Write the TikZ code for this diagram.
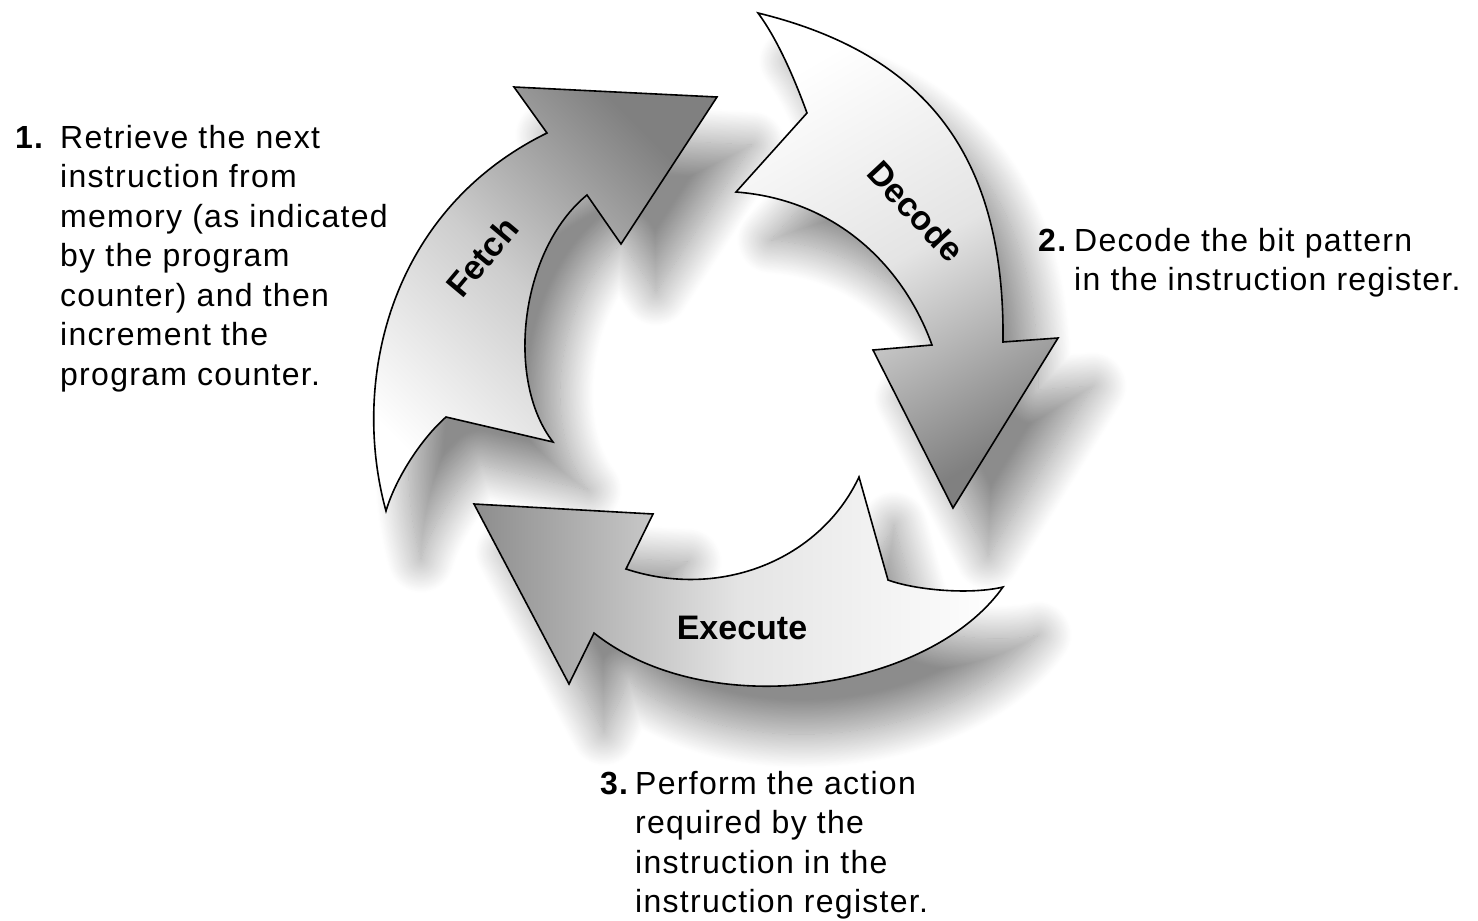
\documentclass[tikz,border=0pt]{standalone}
\usepackage{fontspec}
\setmainfont{Liberation Sans}[LetterSpace=4]
\newfontfamily\phasefont{Liberation Sans}
\usepackage{tikz}
\usetikzlibrary{shadows.blur}
\definecolor{cyc_dark}{RGB}{128, 128, 128}
\definecolor{cyc_mid}{RGB}{205, 205, 205}
\definecolor{cyc_pale}{RGB}{228, 228, 228}
\tikzstyle{num}=[anchor=base west,inner sep=0pt,
  font=\fontsize{32}{39.5}\selectfont\bfseries]
\tikzstyle{desc}=[anchor=base west,align=left,inner sep=0pt,
  font=\fontsize{32}{39.5}\selectfont]
\tikzstyle{phase}=[inner sep=0pt,font=\phasefont\fontsize{34}{38}\selectfont\bfseries]
\tikzstyle{cyc}=[draw=black,line width=1.6pt,line join=miter]
\tikzstyle{soft}=[blur shadow={shadow xshift=35pt,shadow yshift=-48pt,
  shadow blur radius=34pt,shadow blur steps=40,shadow opacity=45}]
\newcommand{\fetchpath}{(386,511) .. controls (350,380) and (390,210) .. (547,133)
  -- (514,87) -- (717,97) -- (621,244) -- (587,195)
  .. controls (520,250) and (505,380) .. (553,442) -- (446,417)
  .. controls (420,440) and (395,480) .. (386,511) -- cycle}
\newcommand{\decodepath}{(758,13) .. controls (930,55) and (1005,160) .. (1003,342)
  -- (1058,338) -- (953,508) -- (873,350) -- (932,345)
  .. controls (905,270) and (840,200) .. (736,192) -- (807,113)
  .. controls (795,80) and (778,40) .. (758,13) -- cycle}
\newcommand{\executepath}{(1003,587) .. controls (930,690) and (710,725) .. (594,633)
  -- (569,684) -- (474,504) -- (653,514) -- (626,569)
  .. controls (720,600) and (820,560) .. (859,477) -- (888,580)
  .. controls (915,590) and (970,595) .. (1003,587) -- cycle}

\begin{document}
\begin{tikzpicture}[x=1pt,y=-1pt]
    \useasboundingbox (0,0) rectangle (1478,921);
    % shadows first, so that no arrow is darkened by another one
    \path [style=soft] \fetchpath;
    \path [style=soft] \decodepath;
    \path [style=soft] \executepath;
    % the three steps of the cycle
    \path [style=cyc,top color=cyc_dark,bottom color=white,middle color=cyc_mid,
      shading angle=-45] \fetchpath;
    \path [style=cyc,top color=white,bottom color=cyc_dark,middle color=cyc_pale,
      shading angle=30] \decodepath;
    \path [style=cyc,left color=cyc_dark!90,right color=white,middle color=cyc_pale]
      \executepath;
    \node [style=phase,rotate=50] (0) at (482,257) {Fetch};
    \node [style=phase,rotate=-47] (1) at (916,211) {Decode};
    \node [style=phase] (2) at (742,628) {Execute};
    % descriptions (base = last line)
    \node [style=num] (3) at (15,148) {1.};
    \node [style=desc] (4) at (60,385) {Retrieve the next\\instruction from\\
      memory (as indicated\\by the program\\counter) and then\\increment the\\
      program counter.};
    \node [style=num] (5) at (1038,251) {2.};
    \node [style=desc] (6) at (1074,290.5) {Decode the bit pattern\\in the instruction register.};
    \node [style=num] (7) at (600,794) {3.};
    \node [style=desc] (8) at (635,912.5) {Perform the action\\required by the\\
      instruction in the\\instruction register.};
\end{tikzpicture}
\end{document}
